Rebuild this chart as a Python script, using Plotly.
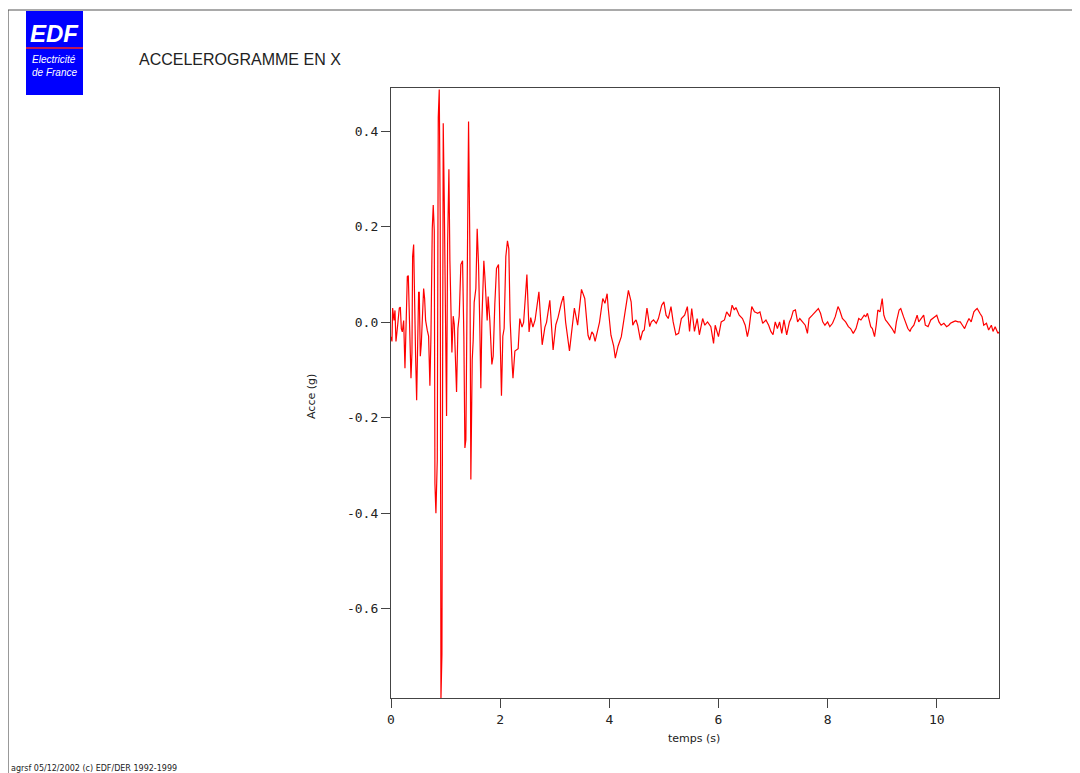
import plotly.graph_objects as go

# Accelerogram X direction: time (s) and acceleration (g)
time_s = [
    0.000, 0.018, 0.030, 0.055, 0.073, 0.091, 0.116, 0.134, 0.152, 0.171,
    0.189, 0.207, 0.232, 0.256, 0.274, 0.299, 0.317, 0.335, 0.354, 0.366,
    0.384, 0.396, 0.415, 0.427, 0.451, 0.470, 0.488, 0.506, 0.518, 0.537,
    0.555, 0.579, 0.598, 0.616, 0.634, 0.665, 0.689, 0.713, 0.732, 0.756,
    0.774, 0.793, 0.805, 0.823, 0.848, 0.866, 0.884, 0.902, 0.915, 0.933,
    0.957, 0.976, 1.000, 1.018, 1.037, 1.061, 1.079, 1.098, 1.116, 1.140,
    1.159, 1.189, 1.201, 1.226, 1.250, 1.280, 1.311, 1.335, 1.354, 1.372,
    1.396, 1.421, 1.445, 1.463, 1.488, 1.506, 1.524, 1.555, 1.579, 1.604,
    1.628, 1.646, 1.665, 1.701, 1.720, 1.738, 1.762, 1.780, 1.811, 1.848,
    1.872, 1.902, 1.933, 1.970, 1.994, 2.024, 2.049, 2.073, 2.104, 2.134,
    2.159, 2.183, 2.220, 2.235,
    2.27, 2.33, 2.36, 2.40, 2.43, 2.49, 2.53, 2.56, 2.60, 2.64,
    2.71, 2.77, 2.82, 2.85, 2.91, 2.97, 3.02, 3.06, 3.12, 3.16,
    3.20, 3.27, 3.30, 3.36, 3.42, 3.49, 3.55, 3.61, 3.64, 3.68,
    3.71, 3.74, 3.82, 3.88, 3.92, 3.96, 3.98, 4.03, 4.08, 4.11,
    4.16, 4.22, 4.28, 4.33, 4.35, 4.40, 4.43, 4.46, 4.49, 4.52,
    4.57, 4.61, 4.64, 4.69, 4.74, 4.77, 4.81, 4.86, 4.90, 4.96,
    5.00, 5.04, 5.08, 5.13, 5.17, 5.22, 5.27, 5.32, 5.38, 5.43,
    5.47, 5.51, 5.56, 5.61, 5.65, 5.71, 5.75, 5.80, 5.86, 5.91,
    5.94, 6.00, 6.05, 6.11, 6.15, 6.21, 6.25, 6.29, 6.32, 6.38,
    6.44, 6.49, 6.53, 6.56, 6.61, 6.66, 6.72, 6.76, 6.81, 6.87,
    6.92, 6.96, 7.00, 7.04, 7.08, 7.12, 7.16, 7.20, 7.25, 7.30,
    7.33, 7.37, 7.41, 7.45, 7.49, 7.54, 7.59, 7.63, 7.66, 7.72,
    7.78, 7.83, 7.87, 7.91, 7.95, 8.00, 8.04, 8.09, 8.14, 8.19,
    8.22, 8.27, 8.33, 8.38, 8.42, 8.47, 8.52, 8.57, 8.61, 8.67,
    8.70, 8.73, 8.76, 8.79, 8.82, 8.86, 8.89, 8.92, 8.96, 9.00,
    9.03, 9.06, 9.09, 9.14, 9.18, 9.23, 9.26, 9.31, 9.34, 9.39,
    9.43, 9.47, 9.51, 9.53, 9.58, 9.61, 9.64, 9.67, 9.73, 9.76,
    9.79, 9.84, 9.89, 9.92, 9.96, 10.00, 10.04, 10.08, 10.13, 10.18,
    10.22, 10.25, 10.30, 10.34, 10.39, 10.43, 10.47, 10.51, 10.56, 10.59,
    10.63, 10.68, 10.71, 10.74, 10.79, 10.83, 10.86, 10.91, 10.95, 11.00,
    11.03, 11.07, 11.12, 11.14,
]

accel_g = [
    -0.030, -0.040, 0.030, 0.004, 0.025, -0.040, -0.013, 0.004, 0.030, 0.032,
    -0.013, -0.020, 0.004, -0.096, -0.030, 0.096, 0.098, -0.004, -0.096, -0.117,
    -0.063, 0.138, 0.163, 0.054, -0.071, -0.163, 0.004, 0.063, 0.063, -0.071,
    -0.046, 0.021, 0.071, 0.050, 0.004, -0.017, -0.029, -0.133, -0.029, 0.196,
    0.246, 0.192, -0.338, -0.400, -0.288, 0.429, 0.488, 0.213, -0.790, -0.696,
    0.417, 0.254, 0.004, -0.196, 0.163, 0.321, 0.129, 0.038, -0.063, 0.013,
    -0.004, -0.104, -0.146, -0.013, 0.013, 0.121, 0.129, -0.029, -0.263, -0.246,
    0.154, 0.421, 0.154, -0.329, -0.079, -0.038, 0.042, 0.071, 0.196, 0.121,
    -0.013, -0.138, 0.004, 0.129, 0.096, 0.038, 0.004, 0.054, 0.004, -0.088,
    -0.071, 0.038, 0.113, 0.121, -0.004, -0.154, -0.029, -0.013, 0.138, 0.171,
    0.154, 0.004, -0.089, -0.117,
    -0.060, -0.055, 0.008, -0.010, 0.000, 0.100, -0.020, 0.010, -0.010, 0.005,
    0.064, -0.047, -0.010, 0.000, 0.046, -0.058, -0.005, 0.010, 0.040, 0.055,
    0.000, -0.060, -0.030, 0.030, -0.006, 0.069, 0.050, -0.027, -0.037, -0.020,
    -0.025, -0.040, 0.000, 0.050, 0.040, 0.060, 0.030, -0.027, -0.050, -0.075,
    -0.050, -0.030, 0.015, 0.060, 0.067, 0.043, -0.006, 0.001, 0.005, -0.006,
    -0.037, -0.019, -0.016, 0.030, -0.009, 0.001, 0.005, -0.002, 0.008, 0.036,
    0.043, 0.015, 0.008, 0.033, 0.001, -0.026, -0.023, 0.008, 0.015, 0.033,
    -0.019, 0.029, -0.019, 0.008, -0.026, 0.008, -0.006, 0.001, -0.009, -0.044,
    -0.006, -0.030, 0.001, 0.005, 0.022, 0.012, 0.036, 0.026, 0.031, 0.015,
    0.008, -0.006, -0.030, -0.013, 0.033, 0.022, 0.019, 0.022, -0.002, 0.005,
    -0.006, -0.019, -0.026, 0.001, -0.013, 0.001, -0.023, 0.005, -0.026, 0.001,
    0.008, 0.024, 0.026, 0.001, 0.008, 0.001, -0.006, -0.023, 0.008, 0.015,
    0.022, 0.029, 0.019, 0.001, -0.006, 0.001, -0.009, -0.002, 0.012, 0.033,
    0.026, 0.008, 0.001, -0.009, -0.013, -0.023, -0.013, 0.008, 0.005, 0.015,
    0.012, 0.019, 0.005, -0.009, -0.013, -0.030, -0.006, 0.026, 0.022, 0.050,
    0.015, 0.005, 0.001, -0.006, -0.013, -0.023, 0.001, 0.026, 0.029, 0.012,
    0.001, -0.013, -0.019, -0.013, -0.006, 0.005, 0.015, 0.001, 0.012, 0.015,
    -0.006, -0.009, 0.005, 0.008, 0.012, 0.015, 0.001, -0.006, -0.002, -0.009,
    -0.006, -0.002, 0.001, 0.003, 0.001, 0.001, -0.006, -0.013, 0.001, 0.008,
    0.001, 0.022, 0.026, 0.029, 0.019, 0.012, -0.006, -0.002, -0.016, -0.006,
    -0.019, -0.009, -0.023, -0.020,
]

x_ticks = [0, 2, 4, 6, 8, 10]
x_ticktext = ["0", "2", "4", "6", "8", "10"]
y_ticks = [-0.6, -0.4, -0.2, 0.0, 0.2, 0.4]
y_ticktext = ["-0.6", "-0.4", "-0.2", "0.0", "0.2", "0.4"]

title_text = "ACCELEROGRAMME EN X"
x_title = "temps (s)"
y_title = "Acce (g)"
footer_text = "agrsf 05/12/2002 (c) EDF/DER 1992-1999"

# The page body adds an 8 px offset, so the figure is sized to fit the window.
OFF = 8
W, H = 1080 - OFF, 773 - OFF
L, R, T, B = 391, 999, 88, 698  # plot frame in screen pixels
pw, ph = R - L, B - T


def px(x):
    return (x - L) / pw


def py(y):
    return (B - y) / ph


fig = go.Figure()
fig.add_trace(go.Scatter(
    x=time_s, y=accel_g, mode="lines",
    line=dict(color="#ff0000", width=1.2),
    showlegend=False, hoverinfo="skip",
))

axis_font = dict(family="DejaVu Sans Mono", size=13, color="#222222")
fig.update_xaxes(
    range=[0, 11.14], showgrid=False, zeroline=False,
    showline=True, linecolor="#444444", linewidth=1.3, mirror=True,
    ticks="outside", ticklen=9, tickwidth=1.3, tickcolor="#444444",
    tickvals=x_ticks, ticktext=x_ticktext, tickfont=axis_font,
)
fig.update_yaxes(
    range=[-0.787, 0.491], showgrid=False, zeroline=False,
    showline=True, linecolor="#444444", linewidth=1.3, mirror=True,
    ticks="outside", ticklen=9, tickwidth=1.3, tickcolor="#444444",
    tickvals=y_ticks, ticktext=y_ticktext, tickfont=axis_font,
)

shapes = [
    # outer page frame
    dict(type="line", xref="paper", yref="paper", x0=px(8), x1=px(1080), y0=py(10), y1=py(10),
         line=dict(color="#555555", width=1.2)),
    dict(type="line", xref="paper", yref="paper", x0=px(8), x1=px(8), y0=py(10), y1=py(775),
         line=dict(color="#555555", width=1.2)),
    dict(type="line", xref="paper", yref="paper", x0=px(1077), x1=px(1077), y0=py(10), y1=py(775),
         line=dict(color="#555555", width=1.2)),
    # EDF logo block
    dict(type="rect", xref="paper", yref="paper", x0=px(26), x1=px(83), y0=py(95), y1=py(11),
         fillcolor="#0000ff", line=dict(width=0)),
    dict(type="line", xref="paper", yref="paper", x0=px(26), x1=px(83), y0=py(48), y1=py(48),
         line=dict(color="#ff2020", width=1.5)),
]

annotations = [
    dict(text="<b><i>EDF</i></b>", x=px(54), y=py(34), xref="paper", yref="paper",
         xanchor="center", yanchor="middle", showarrow=False,
         font=dict(family="Liberation Sans", size=24, color="white")),
    dict(text="<i>Electricité</i>", x=px(54), y=py(60), xref="paper", yref="paper",
         xanchor="center", yanchor="middle", showarrow=False,
         font=dict(family="Liberation Sans", size=10, color="white")),
    dict(text="<i>de France</i>", x=px(54), y=py(72), xref="paper", yref="paper",
         xanchor="center", yanchor="middle", showarrow=False,
         font=dict(family="Liberation Sans", size=10, color="white")),
    dict(text=title_text, x=px(137), y=py(60), xref="paper", yref="paper",
         xanchor="left", yanchor="middle", showarrow=False,
         font=dict(family="Liberation Sans", size=16, color="#222222")),
    dict(text=y_title, x=px(312), y=py(397), xref="paper", yref="paper",
         xanchor="center", yanchor="middle", textangle=-90, showarrow=False,
         font=dict(family="DejaVu Sans", size=11, color="#222222")),
    dict(text=x_title, x=px(694), y=py(738), xref="paper", yref="paper",
         xanchor="center", yanchor="middle", showarrow=False,
         font=dict(family="DejaVu Sans", size=11, color="#222222")),
    dict(text=footer_text, x=px(9), y=py(769), xref="paper", yref="paper",
         xanchor="left", yanchor="middle", showarrow=False,
         font=dict(family="DejaVu Sans", size=8, color="#222222")),
]

fig.update_layout(
    width=W, height=H,
    margin=dict(l=L - OFF, r=W - (R - OFF), t=T - OFF, b=H - (B - OFF), pad=0),
    paper_bgcolor="white", plot_bgcolor="white",
    shapes=shapes, annotations=annotations,
)

fig.write_html("out.html")
